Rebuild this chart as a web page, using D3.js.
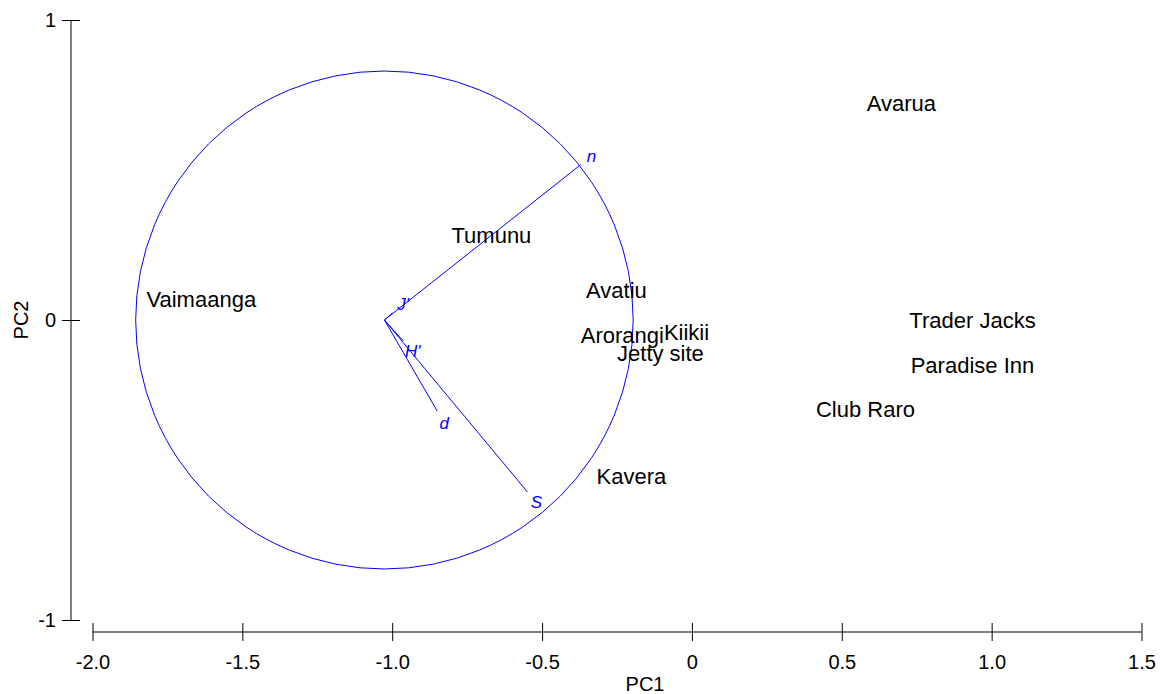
<!DOCTYPE html>
<html>
<head>
<meta charset="utf-8">
<script src="https://cdn.jsdelivr.net/npm/d3@7"></script>
<style>
  body { margin: 0; background: #fff; }
  text { font-family: "Liberation Sans", Arial, sans-serif; }
</style>
</head>
<body>
<div id="canvas"><svg width="1164" height="694"></svg></div>
<script>
// site scores (PC1, PC2)
const sites = ["Avarua", "Tumunu", "Vaimaanga", "Avatiu", "Arorangi", "Kiikii",
  "Jetty site", "Trader Jacks", "Paradise Inn", "Club Raro", "Kavera"];
const pc1 = [0.699, -0.669, -1.637, -0.252, -0.232, -0.018, -0.105, 0.936, 0.936, 0.579, -0.202];
const pc2 = [0.723, 0.283, 0.067, 0.100, -0.050, -0.040, -0.110, -0.003, -0.150, -0.297, -0.520];

// diversity index vectors (drawn from the circle centre)
const vecNames = ["n", "S", "d", "H'", "J'"];
const vecX = [-0.372, -0.549, -0.850, -0.963, -0.999];
const vecY = [0.517, -0.573, -0.303, -0.070, 0.023];
const circleCentre = [-1.026, 0];
const circleRadius = 0.83;

const xTicks = [-2.0, -1.5, -1.0, -0.5, 0, 0.5, 1.0, 1.5];
const yTicks = [-1, 0, 1];

const svg = d3.select("#canvas").select("svg");
const x = d3.scaleLinear().domain([-2, 1.5]).range([92.5, 1141.5]);
const y = d3.scaleLinear().domain([-1, 1]).range([620, 20]);

// x axis
const xg = svg.append("g").attr("transform", "translate(0,632)");
xg.call(d3.axisBottom(x).tickValues(xTicks)
  .tickFormat(d => d === 0 ? "0" : d.toFixed(1)).tickSize(9).tickPadding(14));
xg.select(".domain").remove();
xg.append("line").attr("x1", x(-2)).attr("x2", x(1.5)).attr("stroke", "#000");
xg.selectAll(".tick line").attr("y1", -9).attr("y2", 9).attr("stroke", "#000");
xg.selectAll(".tick text").attr("font-size", 20).attr("fill", "#000")
  .attr("font-family", "Liberation Sans, Arial, sans-serif");

// y axis
const yg = svg.append("g").attr("transform", "translate(71,0)");
yg.call(d3.axisLeft(y).tickValues(yTicks).tickFormat(d => String(d)).tickSize(9).tickPadding(6));
yg.select(".domain").remove();
yg.append("line").attr("y1", y(-1)).attr("y2", y(1)).attr("stroke", "#000");
yg.selectAll(".tick line").attr("x1", -9).attr("x2", 9).attr("stroke", "#000");
yg.selectAll(".tick text").attr("font-size", 20).attr("fill", "#000")
  .attr("font-family", "Liberation Sans, Arial, sans-serif");

svg.append("text").attr("x", 645).attr("y", 691).attr("text-anchor", "middle")
  .attr("font-size", 20).text("PC1");
svg.append("text").attr("transform", "translate(28,320) rotate(-90)")
  .attr("text-anchor", "middle").attr("font-size", 20).text("PC2");

// circle + vectors
const cx = x(circleCentre[0]), cy = y(circleCentre[1]);
svg.append("ellipse")
  .attr("cx", cx).attr("cy", cy)
  .attr("rx", x(circleCentre[0] + circleRadius) - cx)
  .attr("ry", cy - y(circleRadius))
  .attr("fill", "none").attr("stroke", "#0000ff").attr("stroke-width", 1);

const vecs = vecNames.map((n, i) => ({ name: n, x: vecX[i], y: vecY[i] }));
const vg = svg.append("g").attr("class", "vectors");
vg.selectAll("line").data(vecs).join("line")
  .attr("x1", cx).attr("y1", cy)
  .attr("x2", d => x(d.x)).attr("y2", d => y(d.y))
  .attr("stroke", "#0000ff").attr("stroke-width", 1);
vg.selectAll("text").data(vecs).join("text")
  .attr("x", d => {
    const dx = x(d.x) - cx, dy = y(d.y) - cy, l = Math.hypot(dx, dy);
    return x(d.x) + dx / l * 14;
  })
  .attr("y", d => {
    const dx = x(d.x) - cx, dy = y(d.y) - cy, l = Math.hypot(dx, dy);
    return y(d.y) + dy / l * 14;
  })
  .attr("text-anchor", "middle").attr("dominant-baseline", "central")
  .attr("font-size", 17).attr("font-style", "italic").attr("fill", "#0000ff")
  .text(d => d.name);

// site labels
const pts = sites.map((s, i) => ({ name: s, x: pc1[i], y: pc2[i] }));
svg.append("g").selectAll("text").data(pts).join("text")
  .attr("x", d => x(d.x)).attr("y", d => y(d.y))
  .attr("text-anchor", "middle").attr("dominant-baseline", "central")
  .attr("font-size", 22).attr("fill", "#000")
  .text(d => d.name);
</script>
</body>
</html>
